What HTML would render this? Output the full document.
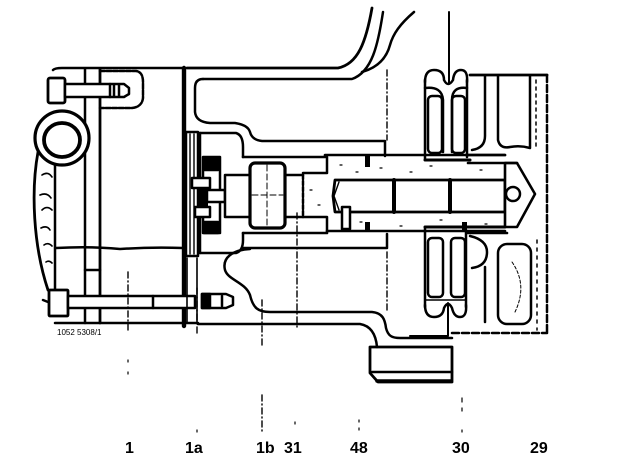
<!DOCTYPE html>
<html><head><meta charset="utf-8"><style>
html,body{margin:0;padding:0;background:#fff;width:640px;height:468px;overflow:hidden}
svg{display:block}
text{font-family:"Liberation Sans",sans-serif;fill:#000}
</style></head><body>
<svg width="640" height="468" viewBox="0 0 640 468" xmlns="http://www.w3.org/2000/svg">
<g fill="none" stroke="#000" stroke-width="2.5" stroke-linejoin="round" stroke-linecap="round">
<!-- LEFT HOUSING -->
<path d="M53,70 Q55,68 62,68 H184"/>
<path d="M85,69 V323"/>
<path d="M100,69 V323" stroke-width="2.8"/>
<path d="M184,68 V326" stroke-width="4.4"/>
<path d="M56,248 Q90,246 120,249 Q150,247 183,248"/>
<path d="M85,270 H100"/>
<path d="M55,323 H198"/>
<path d="M55,160 V290"/>
<!-- top boss around bolt -->
<path d="M100,71 H136 Q143,72 143,82 V98 Q142,107 132,108 H100" stroke-dasharray="5,1.5"/>
<!-- top bolt -->
<rect x="48" y="78" width="17" height="25" rx="2" fill="#fff" stroke-width="2.8"/>
<rect x="65" y="84" width="45" height="13" fill="#fff"/>
<path d="M110,84 H124 L129,88 V94 L124,97 H110"/>
<path d="M114,85 V96 M119,85 V96"/>
<!-- ring -->
<circle cx="62" cy="138" r="27" fill="#fff" stroke-width="3.2"/>
<ellipse cx="62" cy="140" rx="18" ry="17" stroke-width="3.8"/>
<!-- crescent -->
<path d="M38,152 C31,190 33,245 48,290" stroke-width="2.8"/>
<path d="M42,175 q6,-4 10,2 M40,195 q7,-3 11,3 M42,210 q5,-5 10,0 M41,228 q6,-3 9,2 M44,245 q4,-3 8,1 M46,262 q3,-2 6,1" stroke-width="1.6"/>
<!-- bottom bolt -->
<rect x="49" y="290" width="19" height="26" rx="1" fill="#fff" stroke-width="2.8"/>
<rect x="68" y="296" width="127" height="12" fill="#fff"/>
<path d="M153,296 V308"/>
<path d="M43,300 L48,302"/>
<!-- nut -->
<path d="M202,294 H226 L233,297 V305 L226,308 H202 Z" fill="#fff"/>
<rect x="202" y="294" width="8" height="14" fill="#000"/>
<path d="M222,296 V306"/>
<!-- MIDDLE CRANKCASE -->
<path d="M187,68 H338 C358,64 366,42 372,8" stroke-width="2.8"/>
<path d="M203,79 H352 C372,72 378,45 383,12"/>
<path d="M414,12 C400,24 393,34 390,45 C386,60 376,68 362,72"/>
<!-- upper cavity -->
<path d="M203,79 Q195,79 195,88 V112 Q196,122 210,123 H235 Q248,125 250,132 Q252,140 262,141 H385 V156"/>
<!-- inner housing -->
<path d="M200,133 H236 Q243,135 243,147 V157"/>
<path d="M200,133 V253"/>
<path d="M200,253 H236 Q243,251 243,240 V233"/>
<path d="M243,157 H325 V155 H505" stroke-width="2.6"/>
<path d="M243,233 H327 V231 H505" stroke-width="2.6"/>
<path d="M243,248 H387 V234"/>
<!-- plate -->
<rect x="186" y="132" width="12" height="124"/>
<path d="M190,134 V254 M194,134 V254" stroke-width="1.4"/>
<path d="M187,258 V323 M197,258 V323" stroke-width="1.6"/>
<!-- bearing -->
<rect x="203" y="157" width="17" height="76"/>
<rect x="204" y="159" width="14" height="11" fill="#000"/>
<rect x="204" y="222" width="14" height="11" fill="#000"/>
<rect x="192" y="178" width="18" height="10" fill="#fff"/>
<rect x="198" y="187" width="10" height="21" fill="#000" stroke="none"/>
<rect x="207" y="190" width="18" height="12" fill="#fff"/>
<rect x="195" y="207" width="15" height="10" fill="#fff"/>
<rect x="225" y="175" width="27" height="42" fill="#fff"/>
<rect x="250" y="163" width="35" height="65" rx="5" fill="#fff" stroke-width="3.2"/>
<path d="M267,165 V226 M252,195 H283" stroke-width="1" stroke-dasharray="6,3"/>
<path d="M285,175 H303 M285,217 H303"/>
<path d="M303,175 V217" stroke-dasharray="4,2"/>
<!-- piston section -->
<path d="M327,157 V173 H303 M303,217 H327 V231"/>
<path d="M335,180 H505 V212 H335 L333,196 Z" stroke-width="2.8"/>
<path d="M339,182 L334,196 L339,210" stroke-width="1.4"/>
<path d="M394,180 V212 M450,180 V212" stroke-width="4"/>
<rect x="342" y="207" width="8" height="22" fill="#fff"/>
<rect x="365" y="155" width="5" height="12" fill="#000" stroke="none"/>
<rect x="365" y="222" width="5" height="10" fill="#000" stroke="none"/>
<rect x="462" y="222" width="5" height="10" fill="#000" stroke="none"/>
<path d="M340,165 h2 M356,172 h2 M380,168 h2 M410,172 h2 M430,166 h2 M480,170 h2 M360,222 h2 M400,226 h2 M440,220 h2 M485,224 h2 M310,190 h2 M318,205 h2" stroke-width="1.2"/>
<!-- cone -->
<path d="M505,163 H517 L535,194 L517,227 H505 Z" fill="#fff" stroke-width="2.6"/>
<circle cx="513" cy="194" r="7" fill="#fff"/>
<!-- lower cavity -->
<path d="M250,249 C232,250 222,258 225,270 C228,280 245,282 250,295 C253,308 258,312 270,312 H372 C383,313 385,320 386,328 C388,336 392,338 400,338 H452"/>
<path d="M198,324 H360 C372,326 376,336 377,347"/>
<!-- foot -->
<path d="M370,347 H452 V382 H378 L370,373 Z" stroke-width="2.8"/>
<path d="M372,372 H452"/>
<path d="M377,381 H451" stroke-width="3.5"/>
<!-- FLYWHEEL 30 upper -->
<path d="M449,12 V84" stroke-width="2"/>
<path d="M425,82 Q425,70 434,70 Q444,70 444,80 Q448,88 453,80 Q454,70 461,70 Q468,70 467,82"/>
<path d="M425,80 V160 M467,80 V157"/>
<path d="M425,88 Q442,86 443,100 V152 M467,88 Q452,86 452,100 V152"/>
<rect x="428" y="96" width="14" height="57" rx="4"/>
<rect x="452" y="96" width="13" height="57" rx="4"/>
<path d="M425,160 H470" stroke-width="3"/>
<path d="M468,155 H505 M468,163 H517" stroke-width="2.6"/>
<!-- FLYWHEEL 30 lower -->
<path d="M425,227 H505" stroke-width="3"/>
<path d="M468,233 H507" stroke-width="2.6"/>
<path d="M425,227 V307 M466,230 V307"/>
<rect x="428" y="238" width="15" height="59" rx="4"/>
<rect x="451" y="238" width="14" height="59" rx="4"/>
<path d="M425,305 Q425,317 434,317 Q443,317 444,308 Q448,300 452,308 Q454,317 460,317 Q467,317 466,305"/>
<path d="M425,300 H466" stroke-width="1.6"/>
<path d="M448,303 V336 H410" stroke-width="2"/>
<!-- BLOCK 29 -->
<path d="M470,75 H547" stroke-width="2.8"/>
<path d="M547,75 V333" stroke-dasharray="7,3"/>
<path d="M452,333 H547" stroke-dasharray="7,3"/>
<path d="M485,76 V136 Q485,148 472,150"/>
<path d="M498,76 V140 Q500,149 510,147 Q520,145 530,148 V76"/>
<path d="M536,80 V150" stroke-dasharray="3,4" stroke-width="1.5"/>
<path d="M470,236 Q487,240 487,252 Q487,266 472,268"/>
<path d="M485,267 V322"/>
<rect x="498" y="244" width="33" height="80" rx="9"/>
<path d="M512,262 Q528,285 515,312" stroke-width="1" stroke-dasharray="3,2"/>
<path d="M537,240 V330" stroke-dasharray="3,5" stroke-width="1.5"/>
<!-- CENTER LINES -->
<path d="M387,70 V140 M387,252 V312" stroke-width="1.4" stroke-dasharray="6,3,1,3"/>
<path d="M297,213 V330" stroke-width="1.4" stroke-dasharray="6,3,1,3"/>
<path d="M262,300 V345 M262,395 V432" stroke-width="1.4" stroke-dasharray="6,3,1,3"/>
<path d="M128,272 V330" stroke-width="1.4" stroke-dasharray="6,3,1,3"/>
<path d="M197,288 V335" stroke-width="1.4" stroke-dasharray="6,3,1,3"/>
<path d="M128,360 V362 M128,372 V374" stroke-width="1.2"/>
<path d="M462,398 V402 M462,408 V411 M462,430 V432 M197,430 V432 M295,422 V424 M359,420 V422 M359,428 V430" stroke-width="1.2"/>
</g>
<text x="57" y="335" font-size="8">1052 5308/1</text>
<g font-size="16" font-weight="bold">
<text x="125" y="453">1</text>
<text x="185" y="453">1a</text>
<text x="256" y="453">1b</text>
<text x="284" y="453">31</text>
<text x="350" y="453">48</text>
<text x="452" y="453">30</text>
<text x="530" y="453">29</text>
</g>
</svg>
</body></html>
